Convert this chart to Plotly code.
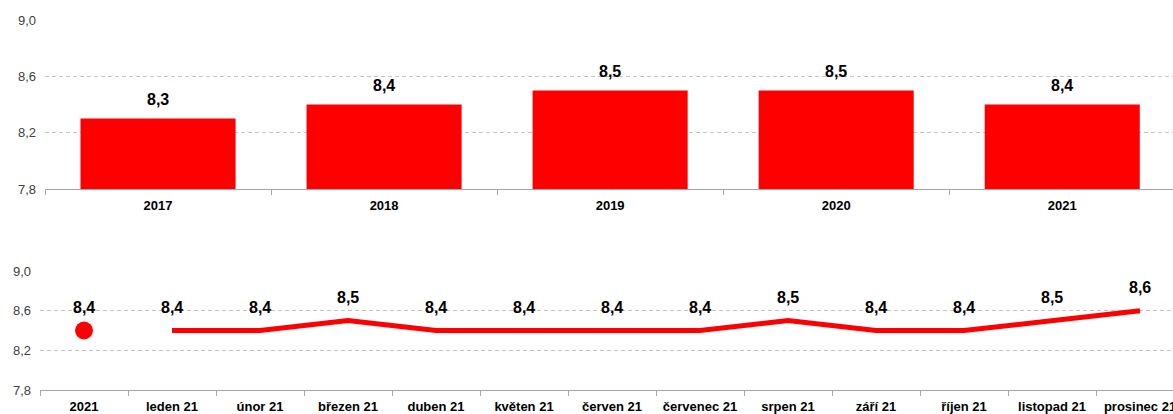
import plotly.graph_objects as go

years = ["2017", "2018", "2019", "2020", "2021"]
year_values = [8.3, 8.4, 8.5, 8.5, 8.4]

annual_label = ["2021"]
annual_value = [8.4]
months = ["leden 21", "únor 21", "březen 21", "duben 21", "květen 21", "červen 21",
          "červenec 21", "srpen 21", "září 21", "říjen 21", "listopad 21", "prosinec 21"]
month_values = [8.4, 8.4, 8.5, 8.4, 8.4, 8.4, 8.4, 8.5, 8.4, 8.4, 8.5, 8.6]

y_ticks = [7.8, 8.2, 8.6, 9.0]

W, H = 1173, 414
RED = "#FF0000"
FONT = "Liberation Sans, Arial, sans-serif"

def fmt(v):
    return "<b>" + f"{v:.1f}".replace(".", ",") + "</b>"

fig = go.Figure()

fig.add_trace(go.Bar(x=years, y=year_values, marker=dict(color=RED, line=dict(width=0)),
                     width=0.686, xaxis="x", yaxis="y", showlegend=False))

bottom_cats = annual_label + months
fig.add_trace(go.Scatter(x=annual_label, y=annual_value, mode="markers",
                         marker=dict(color=RED, size=18), xaxis="x2", yaxis="y2",
                         showlegend=False))
fig.add_trace(go.Scatter(x=months, y=month_values, mode="lines",
                         line=dict(color=RED, width=5), xaxis="x2", yaxis="y2",
                         showlegend=False))

annotations = []
for i, v in enumerate(year_values):
    annotations.append(dict(x=i, y=v, xref="x", yref="y", text=fmt(v), showarrow=False,
                            yshift=19, font=dict(family=FONT, size=16, color="#000000")))
for i, v in enumerate(annual_value + month_values):
    annotations.append(dict(x=i, y=v, xref="x2", yref="y2", text=fmt(v), showarrow=False,
                            yshift=23, font=dict(family=FONT, size=16, color="#000000")))

axis_common = dict(showline=True, linecolor="#a6a6a6", linewidth=1, ticks="outside",
                   tickson="boundaries", ticklen=5, tickcolor="#a6a6a6", showgrid=False,
                   tickfont=dict(family=FONT, size=13, color="#000000"), type="category",
                   automargin=False, tickprefix="<b>", ticksuffix="</b>",
                   ticklabelstandoff=4)
yaxis_common = dict(range=[7.8, 9.0], tickvals=y_ticks, tickformat=".1f", showline=False,
                    showgrid=True, gridcolor="#c4c4c4", griddash="4px,3px", gridwidth=1,
                    zeroline=False, tickfont=dict(family=FONT, size=13, color="#404040"),
                    ticks="", ticklabelstandoff=8, automargin=False)

fig.update_layout(
    width=W, height=H,
    margin=dict(l=0, r=0, t=0, b=0, autoexpand=False),
    paper_bgcolor="white", plot_bgcolor="white",
    separators=", ",
    xaxis=dict(domain=[45 / W, 1], range=[-0.5, 4.49], anchor="y",
               categoryorder="array", categoryarray=years, **axis_common),
    yaxis=dict(domain=[1 - 189 / H, 1 - 20 / H], anchor="x", **yaxis_common),
    xaxis2=dict(domain=[40 / W, 1], range=[-0.5, 12.375], anchor="y2",
                categoryorder="array", categoryarray=bottom_cats, **axis_common),
    yaxis2=dict(domain=[1 - 390 / H, 1 - 271 / H], anchor="x2", **yaxis_common),
    annotations=annotations,
    font=dict(family=FONT),
)

fig.write_html("out.html", config={"displayModeBar": False},
               post_script="document.body.style.margin='0px';document.body.style.overflow='hidden';")
